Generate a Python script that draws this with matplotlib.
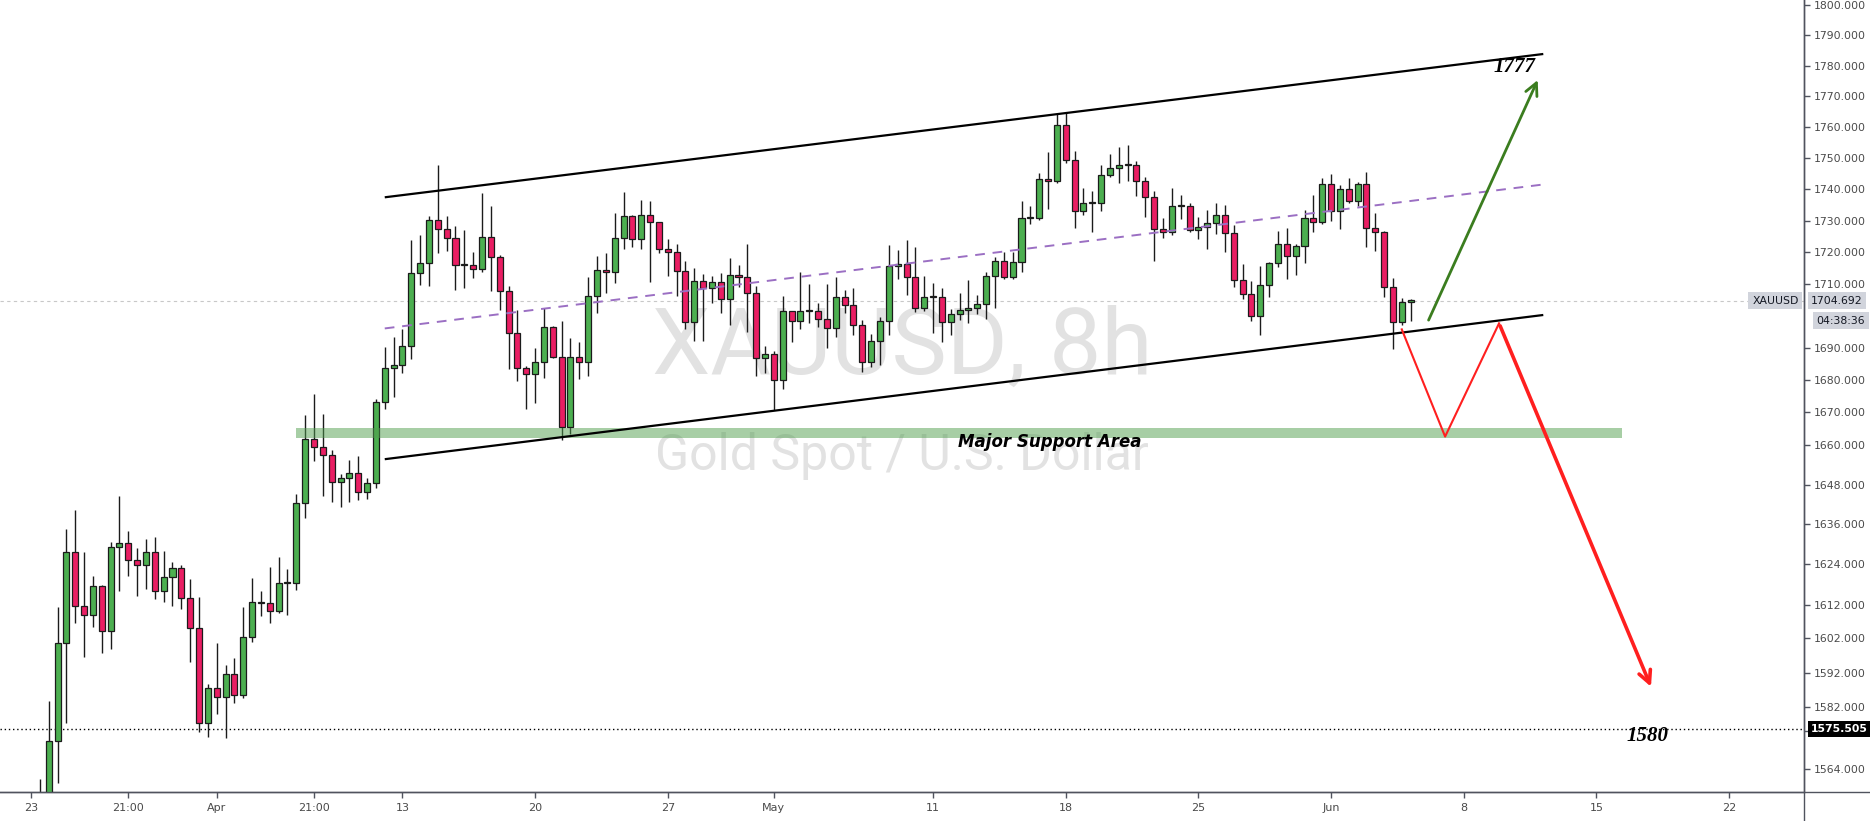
import matplotlib
matplotlib.use("Agg")
import matplotlib.pyplot as plt
import numpy as np
from matplotlib.ticker import FixedLocator, NullLocator, FuncFormatter
from matplotlib.lines import Line2D

# XAUUSD 8h candles, bar index 0 = Mar 23 first bar
opens = [1499, 1512, 1540, 1572.2, 1600.8, 1627.6, 1611.6, 1608.8, 1617.5, 1604.1,
         1629.1, 1630.3, 1625.3, 1623.7, 1627.6, 1616.0, 1620.1, 1622.8, 1613.9, 1605.0,
         1577.2, 1587.4, 1584.8, 1591.5, 1585.4, 1602.3, 1612.5, 1612.4, 1610.0, 1618.3,
         1618.4, 1642.3, 1661.8, 1659.3, 1656.9, 1648.7, 1649.9, 1651.4, 1645.7, 1648.4,
         1673.2, 1683.6, 1684.6, 1690.5, 1713.3, 1716.5, 1730.1, 1727.2, 1724.4, 1715.9,
         1715.9, 1714.6, 1724.7, 1718.3, 1707.6, 1694.5, 1683.6, 1681.8, 1685.5, 1696.5,
         1687.1, 1665.5, 1687.1, 1685.5, 1706.3, 1714.3, 1713.6, 1724.4, 1731.4, 1724.1,
         1731.7, 1729.4, 1720.9, 1719.9, 1713.9, 1697.9, 1710.8, 1708.8, 1710.5, 1705.1,
         1712.7, 1712.0, 1707.0, 1686.7, 1687.9, 1679.9, 1701.3, 1698.2, 1701.3, 1701.3,
         1699.1, 1696.0, 1705.7, 1703.2, 1697.2, 1685.5, 1692.0, 1698.2, 1715.7, 1716.2,
         1712.0, 1702.3, 1705.7, 1705.7, 1697.9, 1700.4, 1701.7, 1702.3, 1703.5, 1712.5,
         1717.2, 1712.0, 1716.8, 1730.8, 1730.8, 1743.2, 1742.6, 1760.5, 1749.3, 1732.9,
         1735.6, 1735.6, 1744.7, 1746.9, 1747.7, 1747.8, 1742.6, 1737.4, 1727.2, 1726.3,
         1734.6, 1734.5, 1726.9, 1728.0, 1729.1, 1731.9, 1725.9, 1711.1, 1706.7, 1699.9,
         1709.5, 1716.5, 1722.5, 1718.8, 1721.8, 1730.8, 1729.4, 1741.6, 1733.0, 1739.9,
         1736.3, 1741.6, 1727.7, 1726.3, 1709.1, 1697.9, 1704.4]
highs = [1527, 1561, 1583.8, 1611.4, 1634.6, 1640.3, 1627.7, 1620.5, 1617.9, 1630.6,
         1644.5, 1634.0, 1628.8, 1631.5, 1632.1, 1628.0, 1624.6, 1623.7, 1619.6, 1614.3,
         1588.6, 1600.8, 1594.2, 1596.2, 1611.4, 1620.0, 1616.0, 1623.2, 1626.2, 1622.7,
         1645.1, 1669.2, 1675.7, 1669.5, 1658.5, 1651.2, 1655.5, 1656.7, 1649.9, 1674.2,
         1690.3, 1693.2, 1695.7, 1723.8, 1725.4, 1731.4, 1747.9, 1731.4, 1728.3, 1727.0,
         1720.0, 1738.7, 1734.6, 1719.1, 1709.3, 1701.8, 1684.3, 1689.8, 1702.5, 1696.8,
         1698.2, 1692.9, 1691.7, 1712.0, 1718.8, 1719.8, 1732.5, 1739.1, 1731.8, 1736.5,
         1736.2, 1729.6, 1724.1, 1722.6, 1717.2, 1714.9, 1713.1, 1712.5, 1713.3, 1718.1,
         1715.8, 1722.6, 1709.3, 1690.5, 1689.0, 1706.3, 1701.6, 1713.7, 1709.9, 1704.0,
         1709.9, 1712.0, 1708.0, 1708.6, 1698.6, 1694.3, 1699.5, 1722.3, 1720.6, 1723.8,
         1721.5, 1712.5, 1710.2, 1708.6, 1702.0, 1707.1, 1711.2, 1706.4, 1713.6, 1718.4,
         1720.0, 1720.0, 1736.2, 1734.6, 1745.1, 1751.8, 1764.1, 1765.0, 1752.2, 1740.3,
         1739.5, 1747.9, 1751.3, 1753.4, 1754.1, 1749.1, 1743.8, 1739.5, 1730.8, 1740.3,
         1738.1, 1735.6, 1731.1, 1733.2, 1735.6, 1734.9, 1728.5, 1716.2, 1710.8, 1715.6,
         1716.9, 1726.8, 1727.6, 1722.5, 1733.2, 1738.1, 1743.6, 1744.8, 1741.3, 1743.5,
         1742.3, 1745.4, 1732.4, 1726.8, 1711.8, 1705.4, 1705.1]
lows = [1482, 1505, 1535, 1560.1, 1577.2, 1606.7, 1596.5, 1605.3, 1597.7, 1598.8,
        1615.9, 1620.6, 1614.7, 1616.6, 1613.8, 1612.9, 1611.7, 1610.6, 1595.2, 1574.8,
        1573.2, 1579.9, 1572.8, 1583.2, 1584.5, 1601.1, 1608.7, 1606.7, 1609.6, 1609.0,
        1616.2, 1638.0, 1655.0, 1644.5, 1642.8, 1641.3, 1642.6, 1643.3, 1643.7, 1647.0,
        1671.2, 1674.9, 1682.3, 1686.4, 1709.5, 1709.3, 1719.8, 1720.4, 1708.0, 1708.7,
        1711.9, 1713.8, 1707.8, 1701.8, 1683.5, 1679.8, 1671.2, 1673.0, 1680.7, 1686.7,
        1661.5, 1663.3, 1680.4, 1681.3, 1700.9, 1707.2, 1710.2, 1720.9, 1721.7, 1721.1,
        1710.7, 1719.6, 1712.5, 1706.3, 1695.9, 1692.2, 1692.2, 1703.8, 1700.7, 1697.1,
        1709.1, 1695.0, 1681.3, 1682.1, 1670.8, 1677.2, 1691.9, 1695.9, 1697.6, 1696.5,
        1689.8, 1693.2, 1700.7, 1694.1, 1682.6, 1683.9, 1684.6, 1694.0, 1711.5, 1706.4,
        1701.2, 1701.5, 1694.5, 1691.9, 1693.9, 1698.6, 1697.8, 1700.5, 1698.9, 1702.3,
        1711.5, 1711.5, 1713.8, 1728.8, 1730.1, 1733.8, 1742.0, 1748.5, 1727.5, 1731.8,
        1726.5, 1733.1, 1743.8, 1742.1, 1742.7, 1737.8, 1731.2, 1717.2, 1724.4, 1725.5,
        1730.5, 1726.2, 1724.1, 1721.1, 1725.7, 1720.1, 1708.9, 1705.1, 1698.2, 1693.8,
        1705.7, 1715.4, 1711.5, 1712.6, 1716.6, 1726.4, 1729.0, 1729.7, 1727.4, 1735.6,
        1734.7, 1721.7, 1720.4, 1705.9, 1689.5, 1697.2, 1698.3]
closes = [1512, 1540, 1572.2, 1600.8, 1627.6, 1611.6, 1608.8, 1617.5, 1604.1, 1629.1,
          1630.3, 1625.3, 1623.7, 1627.6, 1616.0, 1620.1, 1622.8, 1613.9, 1605.0, 1577.2,
          1587.4, 1584.8, 1591.5, 1585.4, 1602.3, 1612.7, 1612.7, 1610.0, 1618.4, 1618.5,
          1642.3, 1661.8, 1659.3, 1656.9, 1648.7, 1649.9, 1651.4, 1645.7, 1648.4, 1673.2,
          1683.6, 1684.6, 1690.5, 1713.3, 1716.5, 1730.1, 1727.2, 1724.4, 1715.9, 1716.0,
          1714.6, 1724.7, 1718.3, 1707.6, 1694.5, 1683.6, 1681.8, 1685.5, 1696.5, 1687.1,
          1665.5, 1687.1, 1685.5, 1706.3, 1714.3, 1713.7, 1724.4, 1731.4, 1724.1, 1731.7,
          1729.4, 1720.9, 1720.0, 1713.9, 1697.9, 1710.8, 1708.8, 1710.5, 1705.1, 1712.7,
          1712.0, 1707.0, 1686.7, 1687.9, 1679.9, 1701.3, 1698.2, 1701.3, 1701.4, 1699.1,
          1696.0, 1705.7, 1703.3, 1697.2, 1685.5, 1692.0, 1698.2, 1715.7, 1716.2, 1712.0,
          1702.3, 1705.7, 1705.8, 1697.9, 1700.4, 1701.7, 1702.3, 1703.5, 1712.5, 1717.2,
          1712.0, 1716.8, 1730.8, 1730.9, 1743.2, 1742.6, 1760.5, 1749.3, 1732.9, 1735.7,
          1735.7, 1744.7, 1746.9, 1747.6, 1747.8, 1742.6, 1737.4, 1727.2, 1726.3, 1734.7,
          1734.7, 1726.9, 1728.0, 1729.1, 1731.9, 1725.9, 1711.2, 1706.7, 1699.9, 1709.5,
          1716.5, 1722.5, 1718.8, 1721.8, 1730.8, 1729.4, 1741.6, 1733.0, 1739.9, 1736.3,
          1741.6, 1727.7, 1726.3, 1709.1, 1697.9, 1704.4, 1704.7]

xtick_pos = [0, 11, 21, 32, 42, 57, 72, 84, 102, 117, 132, 147, 162, 177, 192]
xtick_lbl = ['23', '21:00', 'Apr', '21:00', '13', '20', '27', 'May', '11', '18', '25',
             'Jun', '8', '15', '22']
ytick_vals = [1800, 1790, 1780, 1770, 1760, 1750, 1740, 1730, 1720, 1710, 1690, 1680,
              1670, 1660, 1648, 1636, 1624, 1612, 1602, 1592, 1582, 1575, 1564]

# drawings (bar index, price)
upper_line = ([40, 171], [1737.4, 1783.8])
lower_line = ([40, 171], [1655.7, 1700.2])
mid_line = ([40, 171], [1696.0, 1741.5])
support_zone = (30, 179.9, 1662.2, 1665.1)
green_arrow = ((157.9, 1697.8), (170.5, 1776.1))
red_path = ([155.0, 159.9, 166.0], [1695.7, 1662.6, 1697.6])
red_arrow = ((166.0, 1697.6), (183.3, 1587.1))
last_price = 1704.692
hline_price = 1575.505

green = '#4caf50'
red = '#e91e63'
axis_col = '#50535e'
txt_col = '#4a4a4a'

fig = plt.figure(figsize=(18.7, 8.21), dpi=100)
ax = fig.add_axes([0, 29 / 821, 1804 / 1870, 792 / 821])
ax.set_yscale('log')

o = np.array(opens); h = np.array(highs); l = np.array(lows); c = np.array(closes)
idx = np.arange(len(o))
up = c >= o

ax.vlines(idx, l, h, color='#1b1b1b', lw=1.0, zorder=2)
body_lo = np.minimum(o, c)
body_h = np.maximum(np.abs(c - o), 0.35)
ax.bar(idx, body_h, bottom=body_lo, width=0.68,
       color=np.where(up, green, red), edgecolor='#1b1b1b', linewidth=0.9, zorder=3)

# watermark
ax.text(0.5, 0.5606, 'XAUUSD, 8h', transform=ax.transAxes, ha='center', va='center',
        fontsize=67, family='Roboto', color='#e2e2e2', zorder=0)
ax.text(0.5, 0.4247, 'Gold Spot / U.S. Dollar', transform=ax.transAxes, ha='center',
        va='center', fontsize=36, family='Roboto', color='#e2e2e2', zorder=0)

# price lines
ax.axhline(last_price, color='#c8c8c8', lw=0.8, ls=(0, (3, 3)), zorder=1)
ax.axhline(hline_price, color='black', lw=1.0, ls=(0, (1, 2)), zorder=1)

# channel
ax.plot(*upper_line, color='black', lw=1.6, zorder=5, solid_capstyle='butt')
ax.plot(*lower_line, color='black', lw=1.6, zorder=5, solid_capstyle='butt')
ax.plot(*mid_line, color='#9b6fc3', lw=1.4, ls=(0, (5, 4)), zorder=5)

# support area
x0, x1, y0, y1 = support_zone
ax.fill_between([x0, x1], y0, y1, color='#509e4d', alpha=0.5, lw=0, zorder=4)
ax.text(115.2, 1660.9, 'Major Support Area', ha='center', va='center', fontsize=12,
        fontweight='bold', fontstyle='italic', family='DejaVu Sans', color='black', zorder=6)

# scenario arrows
ax.annotate('', xy=green_arrow[1], xytext=green_arrow[0],
            arrowprops=dict(arrowstyle='->', color='#3b7d1f', lw=2.0, mutation_scale=22),
            zorder=6)
ax.plot(*red_path, color='#ff1f1f', lw=1.5, zorder=6)
ax.annotate('', xy=red_arrow[1], xytext=red_arrow[0],
            arrowprops=dict(arrowstyle='->', color='#ff1f1f', lw=2.6, mutation_scale=22),
            zorder=6)
ax.text(167.8, 1779.5, '1777', ha='center', va='center', fontsize=15, fontweight='bold',
        fontstyle='italic', family='Liberation Serif', zorder=6)
ax.text(182.8, 1573.6, '1580', ha='center', va='center', fontsize=15, fontweight='bold',
        fontstyle='italic', family='Liberation Serif', zorder=6)

# axes
ax.set_xlim(-3.505, 200.48)
ax.set_ylim(1557.4, 1801.6)
ax.yaxis.tick_right()
ax.yaxis.set_major_locator(FixedLocator(ytick_vals))
ax.yaxis.set_minor_locator(NullLocator())
ax.yaxis.set_major_formatter(FuncFormatter(lambda v, p: '%.3f' % v))
ax.set_xticks(xtick_pos, xtick_lbl)
ax.tick_params(axis='y', direction='out', length=4, width=1, color=axis_col, pad=3,
               labelsize=7.8, labelcolor=txt_col)
ax.tick_params(axis='x', direction='out', length=4, width=1, color=axis_col, pad=4,
               labelsize=8, labelcolor=txt_col)
for s in ['top', 'left']:
    ax.spines[s].set_visible(False)
for s in ['right', 'bottom']:
    ax.spines[s].set_color(axis_col)
    ax.spines[s].set_linewidth(1)

fig.add_artist(Line2D([0, 1], [29 / 821, 29 / 821], color=axis_col, lw=1))
fig.add_artist(Line2D([1804 / 1870, 1804 / 1870], [0, 1], color=axis_col, lw=1))

# right-side labels
tr = ax.get_yaxis_transform()
ax.text(0.997, last_price, 'XAUUSD', transform=tr, ha='right', va='center', fontsize=7.8,
        color='#131722', bbox=dict(boxstyle='square,pad=0.35', fc='#d1d4dc', ec='none'),
        zorder=10, clip_on=False)
ax.text(1.004, last_price, '1704.692', transform=tr, ha='left', va='center', fontsize=7.8,
        color='#131722', bbox=dict(boxstyle='square,pad=0.3', fc='#d1d4dc', ec='none'),
        zorder=10, clip_on=False)
ax.text(1.007, 1698.4, '04:38:36', transform=tr, ha='left', va='center', fontsize=7.8,
        color='#131722', bbox=dict(boxstyle='square,pad=0.3', fc='#d1d4dc', ec='none'),
        zorder=10, clip_on=False)
ax.text(1.004, hline_price, '1575.505', transform=tr, ha='left', va='center', fontsize=7.8,
        color='white', fontweight='bold',
        bbox=dict(boxstyle='square,pad=0.3', fc='black', ec='none'),
        zorder=10, clip_on=False)

fig.savefig('out.png', dpi=100, facecolor='white')
